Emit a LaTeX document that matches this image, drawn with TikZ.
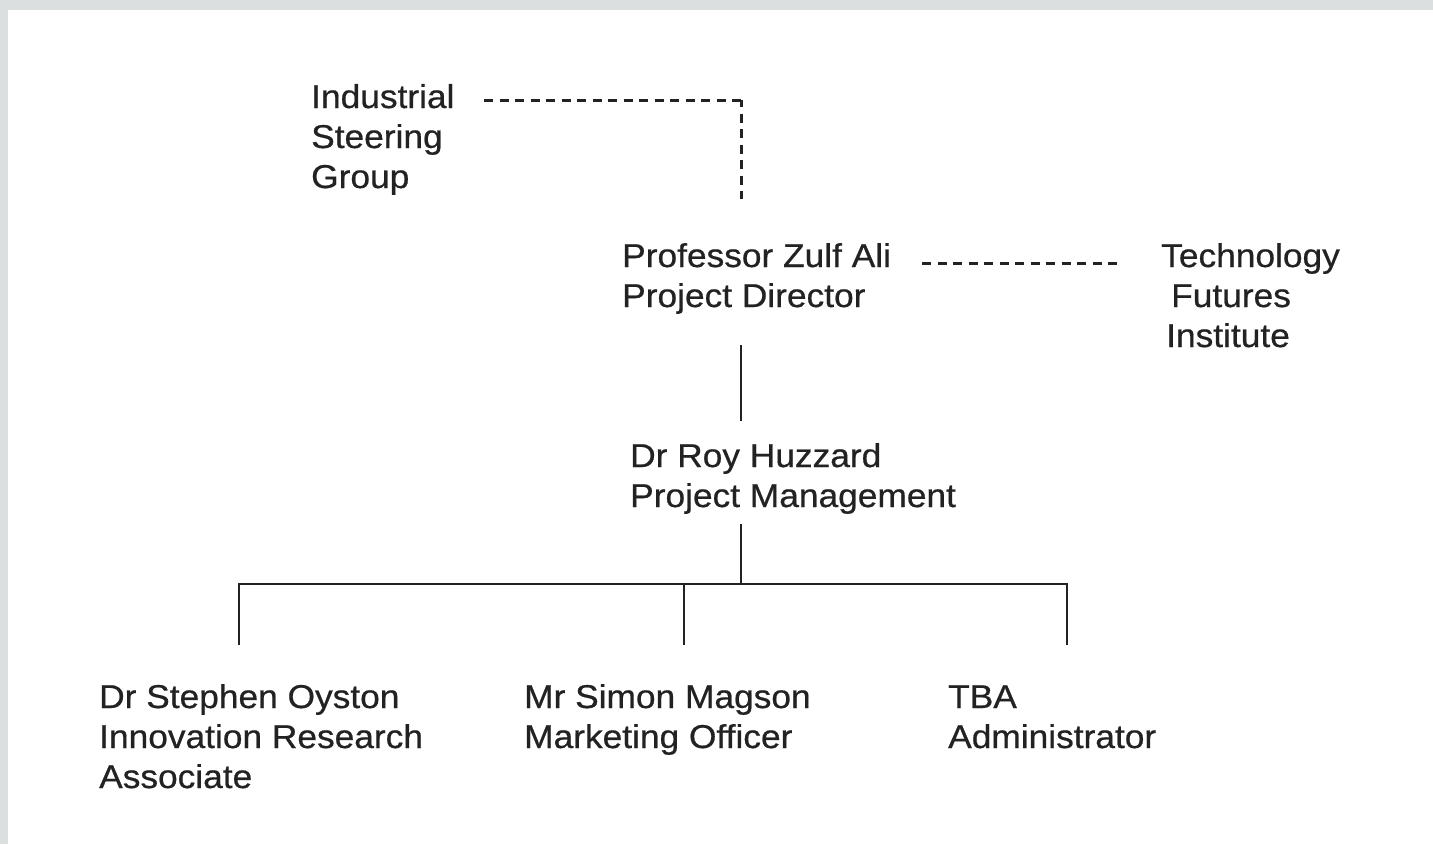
\documentclass[tikz,border=0pt]{standalone}
\usepackage{fontspec}
\setmainfont[FakeStretch=1.07,FakeBold=0.6]{Liberation Sans}
\definecolor{ink}{HTML}{222222}
\definecolor{frame}{HTML}{DCDFE0}
\begin{document}
\begin{tikzpicture}[x=1pt,y=-1pt,
  lab/.style={anchor=base west,inner sep=0pt,align=left,text=ink,
    font=\fontsize{33}{40}\selectfont},
  solidline/.style={draw=ink,line width=2.4pt},
  dashline/.style={draw=ink,line width=3pt,dash pattern=on 9pt off 6.5pt}]
\fill[frame] (0,0) rectangle (1433,844);
\fill[white] (8,10) rectangle (1433,844);
\useasboundingbox (0,0) rectangle (1433,844);

\node[lab] (isg) at (311,188) {Industrial\\Steering\\Group};
\node[lab] (pd) at (622,307) {Professor Zulf Ali\\Project Director};
\node[lab] (tfi) at (1161,347) {Technology\\\hspace*{10pt}Futures\\\hspace*{5pt}Institute};
\node[lab] (pm) at (630,507) {Dr Roy Huzzard\\Project Management};
\node[lab] (so) at (99,788) {Dr Stephen Oyston\\Innovation Research\\Associate};
\node[lab] (sm) at (524,748) {Mr Simon Magson\\Marketing Officer};
\node[lab] (tba) at (948,748) {TBA\\Administrator};

% connector end points
\coordinate (isgR) at (484,100);
\coordinate (corner) at (741,100);
\coordinate (pdTop) at (741,199);
\coordinate (pdR) at (922,263);
\coordinate (tfiL) at (1118,263);
\coordinate (pdBot) at (741,345);
\coordinate (pmTop) at (741,421);
\coordinate (pmBot) at (741,524);
\coordinate (bus) at (741,584);
\coordinate (soTop) at (239,645);
\coordinate (smTop) at (684,645);
\coordinate (tbaTop) at (1067,645);

\draw[dashline] (isgR) -- (corner);
\draw[dashline,dash phase=2pt] (corner) -- (pdTop);
\draw[dashline] (pdR) -- (tfiL);
\draw[solidline] (pdBot) -- (pmTop);
\draw[solidline] (pmBot) -- (bus);
\draw[solidline] (soTop) |- (bus) -| (tbaTop);
\draw[solidline] (smTop) -- (smTop |- bus);
\end{tikzpicture}
\end{document}
